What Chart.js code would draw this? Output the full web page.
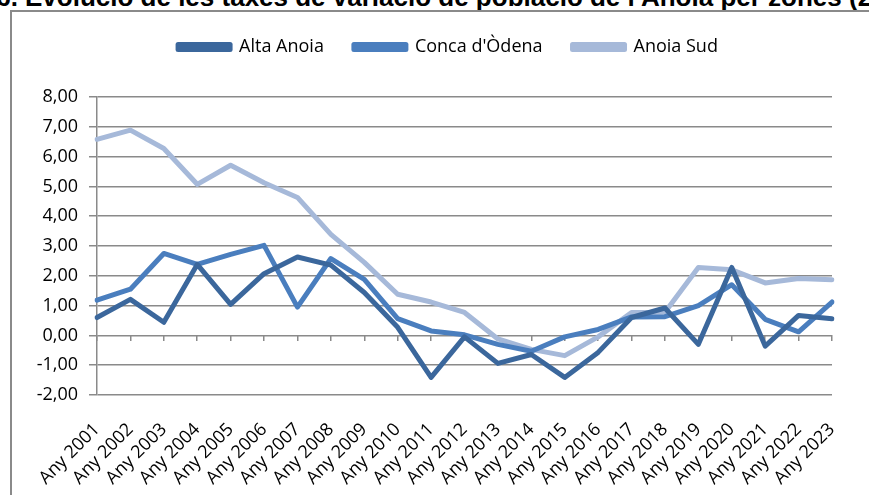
<!DOCTYPE html>
<html lang="ca">
<head>
  <meta charset="UTF-8">
  <title>Evolució de les taxes de variació de població de l'Anoia per zones</title>
  <style>
    html, body {
      margin: 0;
      padding: 0;
      background: #fff;
      width: 869px;
      height: 495px;
      overflow: hidden;
    }
    .title-num, .title-text {
      position: absolute;
      top: -16px;
      font-family: 'Liberation Sans', Arial, sans-serif;
      font-weight: bold;
      font-size: 26px;
      line-height: 26px;
      white-space: nowrap;
      color: #000;
    }
    .title-num { right: 851px; }
    .title-text { left: 25px; }
    .chart-box {
      position: absolute;
      left: 10px;
      top: 10px;
      width: 900px;
      height: 520px;
      border: 2px solid #8a8a8a;
    }
    .chart-wrap {
      position: absolute;
      left: 12px;
      top: 12px;
      width: 857px;
      height: 483px;
    }
  </style>
</head>
<body>
  <div class="title-num">Gràfic 16.</div>
  <div class="title-text">Evolució de les taxes de variació de població de l'Anoia per zones (2001-2023)</div>
  <div class="chart-box"></div>
  <div class="chart-wrap"><canvas id="chart"></canvas></div>

  <script src="https://cdn.jsdelivr.net/npm/chart.js"></script>
  <script>
    const years = ['Any 2001', 'Any 2002', 'Any 2003', 'Any 2004', 'Any 2005', 'Any 2006', 'Any 2007', 'Any 2008',
      'Any 2009', 'Any 2010', 'Any 2011', 'Any 2012', 'Any 2013', 'Any 2014', 'Any 2015', 'Any 2016',
      'Any 2017', 'Any 2018', 'Any 2019', 'Any 2020', 'Any 2021', 'Any 2022', 'Any 2023'];

    const altaAnoia = [0.60, 1.21, 0.44, 2.38, 1.04, 2.07, 2.63, 2.36, 1.44, 0.27, -1.41, -0.05, -0.94,
      -0.64, -1.41, -0.57, 0.60, 0.92, -0.30, 2.28, -0.36, 0.67, 0.56];
    const concaOdena = [1.18, 1.55, 2.75, 2.38, 2.72, 3.02, 0.95, 2.58, 1.88, 0.56, 0.15, 0.02, -0.30,
      -0.53, -0.05, 0.20, 0.62, 0.63, 1.00, 1.70, 0.54, 0.12, 1.12];
    const anoiaSud = [6.58, 6.89, 6.27, 5.07, 5.71, 5.12, 4.63, 3.39, 2.45, 1.38, 1.12, 0.77, -0.12,
      -0.47, -0.68, -0.05, 0.77, 0.78, 2.28, 2.20, 1.76, 1.91, 1.87];

    const gridColor = '#8a8a8a';
    const labelFont = { family: "'Open Sans', sans-serif", size: 18 };

    function serie(label, data, color) {
      return {
        label: label,
        data: data,
        borderColor: color,
        backgroundColor: color,
        borderWidth: 5,
        borderJoinStyle: 'round',
        borderCapStyle: 'round',
        pointRadius: 0,
        tension: 0
      };
    }

    // the legend sits a bit right of centre in the original
    const legendShift = {
      id: 'legendShift',
      afterLayout(chart) {
        chart.legend.left += 26;
        chart.legend.right += 26;
      }
    };

    new Chart(document.getElementById('chart'), {
      type: 'line',
      data: {
        labels: years,
        datasets: [
          serie('Alta Anoia', altaAnoia, '#3b679c'),
          serie("Conca d'Òdena", concaOdena, '#4a7ebe'),
          serie('Anoia Sud', anoiaSud, '#a6b9d9')
        ]
      },
      plugins: [legendShift],
      options: {
        responsive: true,
        maintainAspectRatio: false,
        animation: false,
        layout: { padding: { top: -4, right: 37, bottom: 0, left: 0 } },
        plugins: {
          tooltip: { enabled: false },
          legend: {
            position: 'top',
            labels: {
              color: '#000',
              font: labelFont,
              boxWidth: 52,
              boxHeight: 5,
              padding: 30
            }
          }
        },
        scales: {
          xTop: {
            type: 'category',
            position: 'top',
            ticks: { display: false },
            grid: { display: false },
            border: { display: false },
            afterFit: function (s) { s.height = 31; }
          },
          x: {
            type: 'category',
            position: 'bottom',
            offset: false,
            grid: { display: false },
            border: { display: false },
            ticks: {
              color: '#000',
              font: labelFont,
              maxRotation: 45,
              minRotation: 45,
              autoSkip: false,
              padding: 16
            },
            afterFit: function (s) { s.height = 100; }
          },
          xZero: {
            type: 'category',
            position: { y: 0 },
            offset: false,
            ticks: { display: false },
            border: { display: false },
            grid: {
              drawOnChartArea: false,
              drawTicks: true,
              tickLength: 6,
              color: gridColor,
              lineWidth: 1.5
            }
          },
          y: {
            min: -2,
            max: 8,
            ticks: {
              stepSize: 1,
              color: '#000',
              font: labelFont,
              padding: 11,
              callback: function (v) { return v.toFixed(2).replace('.', ','); }
            },
            grid: { color: gridColor, lineWidth: 1.5, tickLength: 8 },
            border: { color: gridColor, width: 1.5 },
            afterFit: function (s) { s.width = 85; }
          }
        }
      }
    });
  </script>
</body>
</html>
